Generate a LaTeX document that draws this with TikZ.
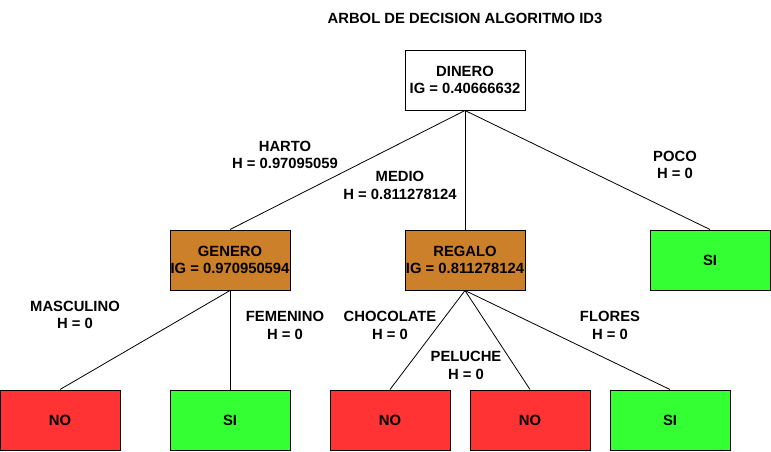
\documentclass[tikz,border=0pt]{standalone}
\usepackage{fontspec}
\setmainfont{Liberation Sans}
\definecolor{atributo}{HTML}{CC8029}
\definecolor{clasesi}{HTML}{33FF33}
\definecolor{claseno}{HTML}{FF3333}
\begin{document}
\begin{tikzpicture}[x=1pt,y=-1pt,
  every node/.style={font=\bfseries\fontsize{14.8}{17.5}\selectfont, align=center, inner sep=0pt},
  caja/.style={draw=black, line width=1pt, minimum width=120pt, minimum height=60pt},
  rama/.style={draw=black, line width=0.8pt}]
\useasboundingbox (0,0) rectangle (771,451);
% titulo
\node (titulo) at (465,18) {ARBOL DE DECISION ALGORITMO ID3};
% nodos
\node [caja, fill=white] (dinero) at (465,80) {DINERO\\IG = 0.40666632};
\node [caja, fill=atributo] (genero) at (230,260) {GENERO\\IG = 0.970950594};
\node [caja, fill=atributo] (regalo) at (465,260) {REGALO\\IG = 0.811278124};
\node [caja, fill=clasesi] (poco) at (710,260) {SI};
\node [caja, fill=claseno] (masc) at (60,420) {NO};
\node [caja, fill=clasesi] (fem) at (230,420) {SI};
\node [caja, fill=claseno] (choc) at (390,420) {NO};
\node [caja, fill=claseno] (pel) at (530,420) {NO};
\node [caja, fill=clasesi] (flor) at (670,420) {SI};
% ramas
\draw [rama] (dinero.south) -- (genero.north);
\draw [rama] (dinero.south) -- (regalo.north);
\draw [rama] (dinero.south) -- (poco.north);
\draw [rama] (genero.south) -- (masc.north);
\draw [rama] (genero.south) -- (fem.north);
\draw [rama] (regalo.south) -- (choc.north);
\draw [rama] (regalo.south) -- (pel.north);
\draw [rama] (regalo.south) -- (flor.north);
% etiquetas
\node (lharto) at (285,155) {HARTO\\H = 0.97095059};
\node (lmedio) at (400,185.5) {MEDIO\\H = 0.811278124};
\node (lpoco) at (675,165) {POCO\\H = 0};
\node (lmasc) at (75,315) {MASCULINO\\H = 0};
\node (lfem) at (285,325.5) {FEMENINO\\H = 0};
\node (lchoc) at (390,325.5) {CHOCOLATE\\H = 0};
\node (lpel) at (466,365.5) {PELUCHE\\H = 0};
\node (lflor) at (610,325.5) {FLORES\\H = 0};
\end{tikzpicture}
\end{document}
